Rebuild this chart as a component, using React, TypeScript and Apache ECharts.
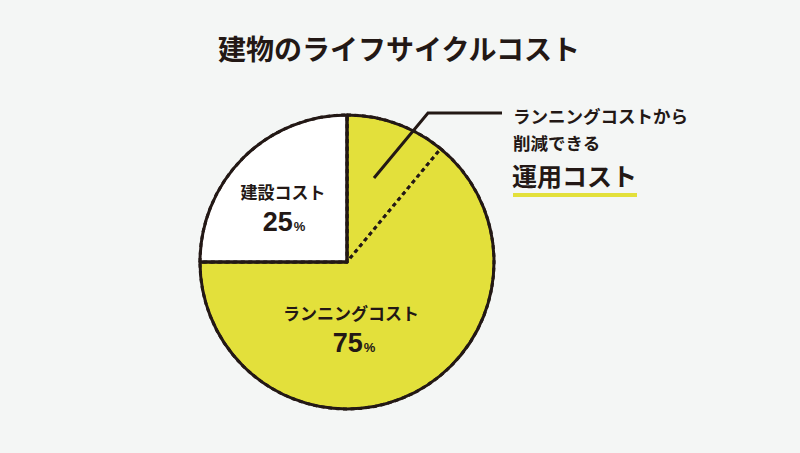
import React, { useEffect, useRef } from "react";
import * as echarts from "echarts";

// slices clockwise from 12 o'clock
const sliceNames = ["運用コスト", "ランニングコスト", "建設コスト"];
const sliceValues = [11, 64, 25];
const sliceColors = ["#e3e03b", "#e3e03b", "#ffffff"];

// outline groups: running cost (75) and construction cost (25)
const groupNames = ["ランニングコスト", "建設コスト"];
const groupValues = [75, 25];

const title = "建物のライフサイクルコスト";
const calloutLines = ["ランニングコストから", "削減できる"];
const calloutTitle = "運用コスト";

const ink = "#231815";
const yellow = "#e3e03b";
const bg = "#f4f6f5";

const App: React.FC = () => {
  const chartRef = useRef<HTMLDivElement>(null);

  useEffect(() => {
    document.body.style.margin = "0";
    if (!chartRef.current) return;
    const chart = echarts.init(chartRef.current, undefined, { renderer: "svg" });

    const cx = 347;
    const cy = 262;
    const r = 147;
    const jp = "'Noto Sans CJK JP', 'Noto Sans', sans-serif";
    const num = "'Liberation Sans', Arial, sans-serif";

    const pctLabel = (name: string, value: number, x: number, y: number, px: number) => [
      {
        type: "text",
        z: 100,
        x,
        y,
        style: {
          text: name,
          font: `bold 17px ${jp}`,
          fill: ink,
          align: "center",
          verticalAlign: "middle",
        },
      },
      {
        type: "text",
        z: 100,
        x: px,
        y: y + 31,
        style: {
          text: `{n|${value}}{p|%}`,
          align: "center",
          verticalAlign: "middle",
          rich: {
            n: { fontFamily: num, fontWeight: "bold", fontSize: 27, fill: ink, color: ink },
            p: { fontFamily: num, fontWeight: "bold", fontSize: 13, fill: ink, color: ink, padding: [8, 0, 0, 1] },
          },
        },
      },
    ];

    const option: echarts.EChartsOption = {
      animation: false,
      backgroundColor: bg,
      series: [
        {
          type: "pie",
          center: [cx, cy],
          radius: r,
          startAngle: 90,
          clockwise: true,
          silent: true,
          label: { show: false },
          labelLine: { show: false },
          itemStyle: {
            borderColor: ink,
            borderWidth: 3,
            borderType: [4, 3.5],
          },
          data: sliceNames.map((n, i) => ({
            name: n,
            value: sliceValues[i],
            itemStyle: { color: sliceColors[i] },
          })),
        },
        {
          type: "pie",
          center: [cx, cy],
          radius: r,
          startAngle: 90,
          clockwise: true,
          silent: true,
          label: { show: false },
          labelLine: { show: false },
          itemStyle: {
            color: "rgba(0,0,0,0)",
            borderColor: ink,
            borderWidth: 3,
          },
          data: groupNames.map((n, i) => ({ name: n, value: groupValues[i] })),
        },
      ],
      graphic: [
        {
          type: "text",
          z: 100,
          left: "center",
          top: 34,
          style: {
            text: title,
            font: `bold 28px ${jp}`,
            fill: ink,
          },
        },
        ...pctLabel(groupNames[1], groupValues[1], 283, 191, 284),
        ...pctLabel(groupNames[0], groupValues[0], 351, 312, 354),
        {
          type: "polyline",
          z: 100,
          shape: {
            points: [
              [374, 178],
              [428, 113],
              [502, 113],
            ],
          },
          style: { stroke: ink, lineWidth: 3, fill: null },
        },
        {
          type: "text",
          z: 100,
          x: 513,
          y: 115,
          style: {
            text: calloutLines[0],
            font: `bold 17.5px ${jp}`,
            fill: ink,
            verticalAlign: "middle",
          },
        },
        {
          type: "text",
          z: 100,
          x: 513,
          y: 142,
          style: {
            text: calloutLines[1],
            font: `bold 17.5px ${jp}`,
            fill: ink,
            verticalAlign: "middle",
          },
        },
        {
          type: "text",
          z: 100,
          x: 512,
          y: 175,
          style: {
            text: calloutTitle,
            font: `bold 25px ${jp}`,
            fill: ink,
            verticalAlign: "middle",
          },
        },
        {
          type: "rect",
          z: 100,
          shape: { x: 513, y: 193, width: 124, height: 4 },
          style: { fill: yellow },
        },
      ],
    };

    chart.setOption(option);
    return () => {
      chart.dispose();
    };
  }, []);

  return <div ref={chartRef} style={{ width: "800px", height: "453px" }} />;
};

export default App;
